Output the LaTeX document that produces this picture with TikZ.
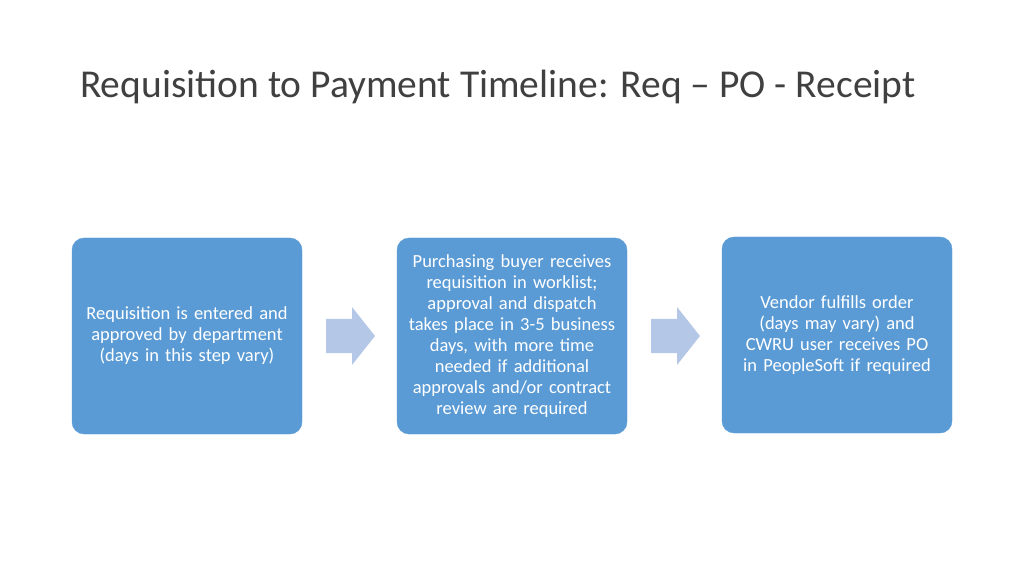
\documentclass[tikz,border=0pt]{standalone}
\usepackage{fontspec}
\setmainfont{Carlito}
\definecolor{boxblue}{HTML}{5B9BD5}
\definecolor{arrblue}{HTML}{B4C7E7}
\begin{document}
\begin{tikzpicture}[x=1pt,y=1pt,
  stepbox/.style={draw=boxblue,fill=boxblue,rounded corners=12pt,minimum width=230pt,minimum height=196pt,text width=214pt,align=center,text=white,font=\fontsize{18.5}{21}\selectfont},
  arr/.style={fill=arrblue}]
\useasboundingbox (0,0) rectangle (1024,576);
\node[anchor=base west,inner sep=0pt,font=\fontsize{39.5}{46}\selectfont,text=black!75] (title) at (80,478) {Requisition to Payment Timeline: Req -- PO - Receipt};
\node[stepbox] (b1) at (187,240) {Requisition is entered and approved by department (days in this step vary)};
\node[stepbox] (b2) at (512,240) {Purchasing buyer receives requisition in worklist; approval and dispatch takes place in 3-5 business days, with more time needed if additional approvals and/or contract review are required};
\node[stepbox] (b3) at (837,241) {Vendor fulfills order (days may vary) and CWRU user receives PO in PeopleSoft if required};
\coordinate (a1) at (326,240);
\coordinate (a2) at (651,240);
\foreach \a in {a1,a2}
  \fill[arr] (\a) ++(0,17) -- ++(26,0) -- ++(0,12) -- ++(23,-29) -- ++(-23,-29) -- ++(0,12) -- ++(-26,0) -- cycle;
\end{tikzpicture}
\end{document}
